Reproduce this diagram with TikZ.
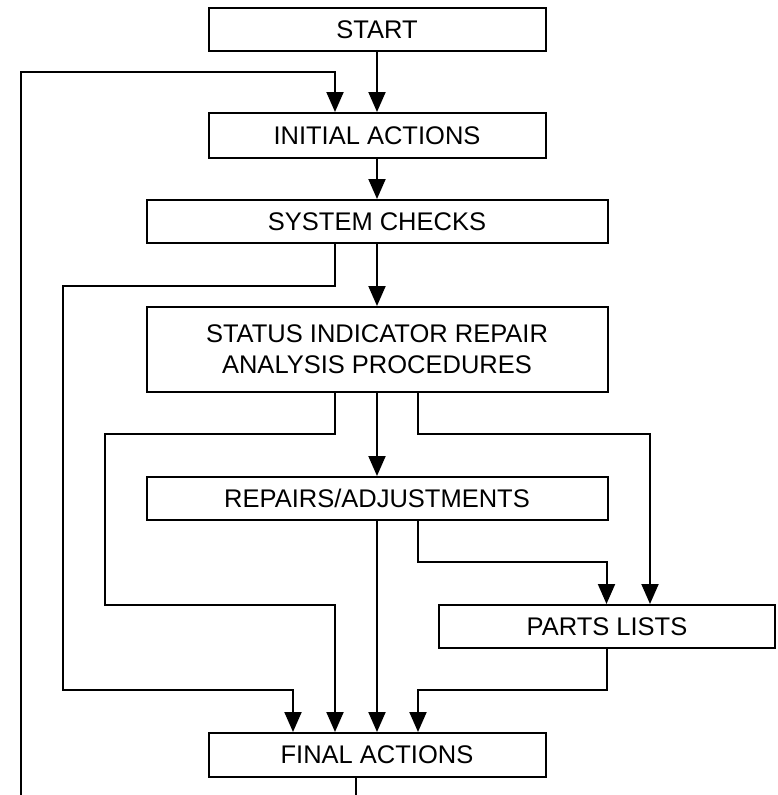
\documentclass[tikz,border=0pt]{standalone}
\usepackage{fontspec}
\setmainfont{Liberation Sans}
\usetikzlibrary{arrows.meta}

\begin{document}
\begin{tikzpicture}[x=1pt,y=-1pt,line width=2pt,
    box/.style={draw, inner sep=0pt, minimum height=#1, align=center,
        font=\fontsize{25.5}{31}\selectfont},
    narrowbox/.style={box=43pt, minimum width=337pt},
    widebox/.style={box=43pt, minimum width=461pt},
    arr/.style={-{Triangle[length=20pt,width=17pt]}}]
    \useasboundingbox (0,0) rectangle (778,795);

    \node[narrowbox] (start) at (377,29.5) {START};
    \node[narrowbox, minimum height=45pt] (initial) at (377,135.5) {INITIAL ACTIONS};
    \node[widebox] (syschk) at (377,221.5) {SYSTEM CHECKS};
    \node[widebox, minimum height=85pt] (status) at (377,349.5) {STATUS INDICATOR REPAIR\\ANALYSIS PROCEDURES};
    \node[widebox] (repairs) at (377,498.5) {REPAIRS/ADJUSTMENTS};
    \node[box=43pt, minimum width=336pt] (parts) at (607,626.5) {PARTS LISTS};
    \node[narrowbox, minimum height=44pt] (final) at (377,755) {FINAL ACTIONS};

    \coordinate (loopin) at (21,795);
    \coordinate (loopout) at (356,795);

    \draw[arr] (start) -- (initial);
    \draw[arr] (loopin) -- (21,72) -| ([xshift=-42pt]initial.north);
    \draw[arr] (initial) -- (syschk);
    \draw[arr] (syschk) -- (status);
    \draw[arr] ([xshift=-42pt]syschk.south) |- (63,286) -- (63,690) -| ([xshift=-84pt]final.north);
    \draw[arr] (status) -- (repairs);
    \draw[arr] ([xshift=-42pt]status.south) |- (105,434) -- (105,605) -| ([xshift=-42pt]final.north);
    \draw[arr] ([xshift=41pt]status.south) |- (650,434) -- ([xshift=43pt]parts.north);
    \draw[arr] (repairs) -- (final);
    \draw[arr] ([xshift=41pt]repairs.south) |- (606.5,562) -- ([xshift=-0.5pt]parts.north);
    \draw[arr] ([xshift=-0.5pt]parts.south) |- (418,690) -- ([xshift=41pt]final.north);
    \draw ([xshift=-21pt]final.south) -- (loopout);
\end{tikzpicture}
\end{document}
